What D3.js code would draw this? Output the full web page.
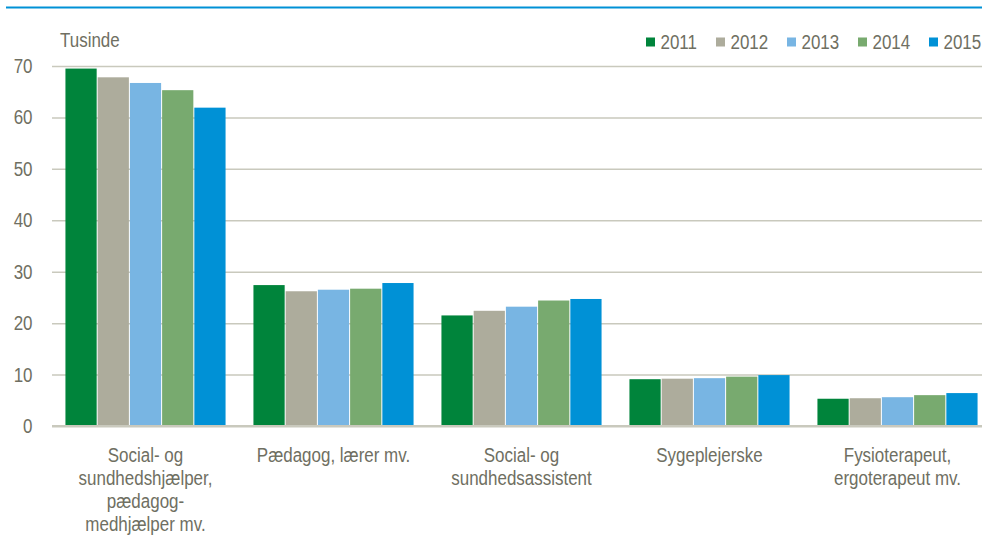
<!DOCTYPE html>
<html><head><meta charset="utf-8">
<script src="https://cdn.jsdelivr.net/npm/d3@7"></script>
<style>body{margin:0;background:#fff}svg{display:block}</style>
</head><body>
<script>
const categories = [
  ["Social- og","sundhedshjælper,","pædagog-","medhjælper mv."],
  ["Pædagog, lærer mv."],
  ["Social- og","sundhedsassistent"],
  ["Sygeplejerske"],
  ["Fysioterapeut,","ergoterapeut mv."]
];
const years = ["2011","2012","2013","2014","2015"];
const v2011 = [69.5, 27.4, 21.5, 9.1, 5.3];
const v2012 = [67.8, 26.2, 22.4, 9.2, 5.4];
const v2013 = [66.7, 26.5, 23.2, 9.3, 5.6];
const v2014 = [65.3, 26.7, 24.4, 9.6, 6.0];
const v2015 = [61.9, 27.8, 24.7, 9.9, 6.4];
const series = [v2011, v2012, v2013, v2014, v2015];
const colors = ["#00843b", "#adac9c", "#78b5e3", "#78aa6f", "#0091d6"];
const yTicks = [0, 10, 20, 30, 40, 50, 60, 70];
const yUnit = "Tusinde";

const W = 982, H = 538;
const textColor = "#6f6f62";
const FS = 19.5, SX = 0.87;

const svg = d3.select("body").append("svg").attr("width", W).attr("height", H);

// top blue rule
svg.append("line").attr("x1", 6).attr("x2", W).attr("y1", 7.5).attr("y2", 7.5)
  .attr("stroke", "#0091d6").attr("stroke-width", 2);

const x0 = d3.scaleBand().domain(d3.range(categories.length)).range([51.5, 991.5])
  .paddingInner(0.143).paddingOuter(0.0715);
const x1 = d3.scaleBand().domain(years).range([0, x0.bandwidth()]).padding(0);
const y = d3.scaleLinear().domain([0, 70]).range([426, 66]);

function label(g, x, yy, txt, anchor) {
  const t = g.append("g").attr("transform", `translate(${x},${yy})`)
    .append("text").attr("transform", `scale(${SX},1)`)
    .attr("font-family", "Liberation Sans, Arial, sans-serif")
    .attr("font-size", FS).attr("fill", textColor)
    .attr("text-anchor", anchor || "start").text(txt);
  return t;
}

// gridlines via axis
const grid = svg.append("g").attr("transform", "translate(52,0)")
  .call(d3.axisRight(y).tickValues(yTicks).tickSize(W - 52).tickFormat(""));
grid.select(".domain").remove();
grid.selectAll(".tick line").attr("stroke", "#c9c9bd").attr("stroke-width", 1.5);
grid.selectAll(".tick").filter(d => d === 0).select("line").attr("stroke-width", 2);

// y tick labels
const yl = svg.append("g");
yTicks.forEach(t => label(yl, 32.5, y(t) + 7, String(t), "end"));

label(svg, 60, 47, yUnit, "start");

// bars
const groups = svg.append("g").selectAll("g").data(categories).join("g")
  .attr("transform", (d, i) => `translate(${x0(i)},0)`);
groups.each(function(d, i) {
  d3.select(this).selectAll("rect").data(years.map((yr, j) => ({yr, v: series[j][i], c: colors[j]})))
    .join("rect")
    .attr("x", e => x1(e.yr) + 0.5)
    .attr("width", x1.bandwidth() - 1)
    .attr("y", e => y(e.v))
    .attr("height", e => y(0) - y(e.v))
    .attr("fill", e => e.c);
});

// redraw baseline on top
svg.append("line").attr("x1", 52).attr("x2", W).attr("y1", y(0)).attr("y2", y(0))
  .attr("stroke", "#c9c9bd").attr("stroke-width", 2);

// category labels
const xl = svg.append("g");
categories.forEach((lines, i) => {
  const cx = x0(i) + x0.bandwidth() / 2;
  lines.forEach((ln, k) => label(xl, cx, 462 + k * 23, ln, "middle"));
});

// legend
const legX = [646, 716, 787, 858, 929];
const lg = svg.append("g");
years.forEach((yr, j) => {
  lg.append("rect").attr("x", legX[j]).attr("y", 37.5).attr("width", 9).attr("height", 9).attr("fill", colors[j]);
  label(lg, legX[j] + 14.5, 48.5, yr, "start");
});
</script>
</body></html>
